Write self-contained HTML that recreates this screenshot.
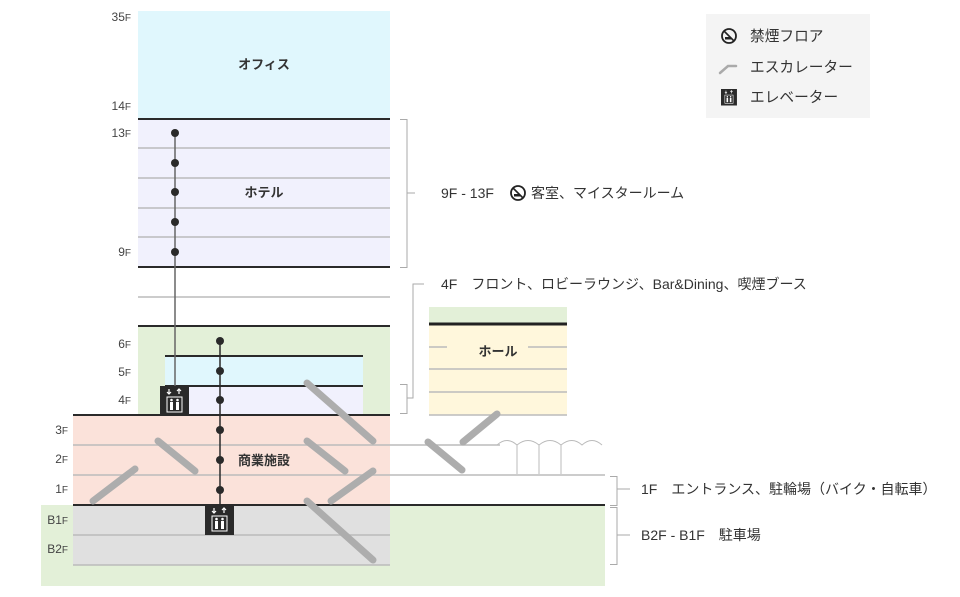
<!DOCTYPE html>
<html><head><meta charset="utf-8"><style>
html,body{margin:0;padding:0;background:#fff;}
svg{display:block;font-family:"Liberation Sans","Noto Sans CJK JP",sans-serif;}
.fl{font-size:12px;fill:#444;text-anchor:end;}
.fs{font-size:10px;}
.t{font-size:14px;fill:#333;}
.lg{font-size:14.7px;fill:#333;}
.b{font-size:13px;font-weight:bold;fill:#333;text-anchor:middle;}
.esc{stroke:#adadad;stroke-width:7;stroke-linecap:round;fill:none;}
.g{stroke:#bbb;stroke-width:1.5;}
.d{stroke:#2a2a2a;stroke-width:2;}
.br{stroke:#aaa;stroke-width:1;fill:none;}
</style></head><body>
<svg width="960" height="597" viewBox="0 0 960 597" xmlns="http://www.w3.org/2000/svg">
<defs>
<g id="elv">
<rect x="0" y="0" width="29" height="30" fill="#2a2a2a"/>
<path d="M9 3v5M7 6l2 2 2-2M19 8V3M17 5l2-2 2 2" stroke="#fff" stroke-width="1.2" fill="none"/>
<rect x="7" y="11" width="15" height="15" fill="none" stroke="#fff" stroke-width="1"/>
<circle cx="11.5" cy="14" r="1.3" fill="#fff"/><circle cx="17.5" cy="14" r="1.3" fill="#fff"/>
<rect x="10" y="16" width="3" height="8" fill="#fff"/><rect x="16" y="16" width="3" height="8" fill="#fff"/>
</g>
<g id="ns">
<circle cx="0" cy="0" r="7" fill="none" stroke="#222" stroke-width="1.8"/>
<line x1="-5" y1="-5" x2="5" y2="5" stroke="#222" stroke-width="1.6"/>
<path d="M-4 1h6v2.5h-6z" fill="#222"/>
</g>
</defs>
<rect x="138" y="11" width="252" height="108" fill="#e0f7fd"/>
<text x="264" y="69" class="b">オフィス</text>
<rect x="138" y="119" width="252" height="148" fill="#f1f1fd"/>
<line x1="138" y1="119" x2="390" y2="119" class="d" stroke-width="1.5"/>
<line x1="138" y1="148" x2="390" y2="148" class="g"/>
<line x1="138" y1="178" x2="390" y2="178" class="g"/>
<line x1="138" y1="208" x2="390" y2="208" class="g"/>
<line x1="138" y1="237" x2="390" y2="237" class="g"/>
<line x1="138" y1="267" x2="390" y2="267" class="d"/>
<text x="264" y="197" class="b">ホテル</text>
<line x1="138" y1="297" x2="390" y2="297" class="g"/>
<rect x="138" y="326" width="252" height="89" fill="#e3f0d8"/>
<line x1="138" y1="326" x2="390" y2="326" class="d"/>
<rect x="165" y="356" width="198" height="30" fill="#e0f7fd"/>
<rect x="165" y="386" width="198" height="29" fill="#f1f1fd"/>
<line x1="165" y1="356" x2="363" y2="356" class="d" stroke-width="1.5"/>
<line x1="165" y1="386" x2="363" y2="386" class="d" stroke-width="1.2"/>
<rect x="41" y="505" width="564" height="81" fill="#e3f0d8"/>
<rect x="73" y="505" width="317" height="60" fill="#e0e0e0"/>
<line x1="73" y1="535" x2="390" y2="535" class="g"/>
<line x1="73" y1="565" x2="390" y2="565" class="g"/>
<rect x="73" y="415" width="317" height="90" fill="#fbe2da"/>
<line x1="73" y1="445" x2="500" y2="445" class="g"/>
<line x1="73" y1="475" x2="605" y2="475" class="g"/>
<line x1="73" y1="415" x2="390" y2="415" class="d"/>
<line x1="73" y1="505" x2="605" y2="505" class="d"/>
<text x="264" y="465" class="b">商業施設</text>
<rect x="429" y="307" width="138" height="17" fill="#e3f0d8"/>
<rect x="429" y="324" width="138" height="91" fill="#fff7dc"/>
<line x1="429" y1="324" x2="567" y2="324" stroke="#222" stroke-width="3"/>
<line x1="429" y1="347" x2="447" y2="347" class="g"/>
<line x1="528" y1="347" x2="567" y2="347" class="g"/>
<line x1="429" y1="369" x2="567" y2="369" class="g"/>
<line x1="429" y1="392" x2="567" y2="392" class="g"/>
<line x1="429" y1="415" x2="567" y2="415" class="g" stroke-width="1"/>
<text x="498" y="356" class="b">ホール</text>
<path d="M497 445Q507 436 517 445Q528 436 539 445Q550 436 561 445Q572 436 582 445Q592 436 602 445M517 445V474M539 445V474M561 445V474" stroke="#bbb" stroke-width="1" fill="none"/>
<line x1="93" y1="501" x2="135" y2="469" class="esc"/>
<line x1="158" y1="441" x2="195" y2="471" class="esc"/>
<line x1="307" y1="383" x2="373" y2="441" class="esc"/>
<line x1="307" y1="441" x2="345" y2="471" class="esc"/>
<line x1="331" y1="501" x2="373" y2="471" class="esc"/>
<line x1="307" y1="501" x2="373" y2="560" class="esc"/>
<line x1="428" y1="442" x2="462" y2="470" class="esc"/>
<line x1="463" y1="442" x2="497" y2="414" class="esc"/>
<line x1="175" y1="133" x2="175" y2="386" stroke="#666" stroke-width="1.5"/>
<g fill="#2a2a2a"><circle cx="175" cy="133" r="4"/><circle cx="175" cy="163" r="4"/><circle cx="175" cy="192" r="4"/><circle cx="175" cy="222" r="4"/><circle cx="175" cy="252" r="4"/></g>
<use href="#elv" x="160" y="386"/>
<line x1="220" y1="341" x2="220" y2="505" stroke="#2a2a2a" stroke-width="1.5"/>
<g fill="#2a2a2a"><circle cx="220" cy="341" r="4"/><circle cx="220" cy="371" r="4"/><circle cx="220" cy="400" r="4"/><circle cx="220" cy="430" r="4"/><circle cx="220" cy="460" r="4"/><circle cx="220" cy="490" r="4"/></g>
<use href="#elv" x="205" y="505"/>
<text x="131" y="21" class="fl">35<tspan class="fs">F</tspan></text>
<text x="131" y="110" class="fl">14<tspan class="fs">F</tspan></text>
<text x="131" y="137" class="fl">13<tspan class="fs">F</tspan></text>
<text x="131" y="256" class="fl">9<tspan class="fs">F</tspan></text>
<text x="131" y="348" class="fl">6<tspan class="fs">F</tspan></text>
<text x="131" y="376" class="fl">5<tspan class="fs">F</tspan></text>
<text x="131" y="404" class="fl">4<tspan class="fs">F</tspan></text>
<text x="68" y="434" class="fl">3<tspan class="fs">F</tspan></text>
<text x="68" y="463" class="fl">2<tspan class="fs">F</tspan></text>
<text x="68" y="493" class="fl">1<tspan class="fs">F</tspan></text>
<text x="68" y="524" class="fl">B1<tspan class="fs">F</tspan></text>
<text x="68" y="553" class="fl">B2<tspan class="fs">F</tspan></text>
<path d="M400 119.5H407V267.5H400M407 193H415" class="br"/>
<text x="441" y="198" class="t">9F - 13F</text>
<use href="#ns" x="518" y="193"/>
<text x="531" y="198" class="t">客室、マイスタールーム</text>
<path d="M400 384.5H407V413.5H400M407 398H413V284H424" class="br"/>
<text x="441" y="289" class="t">4F　フロント、ロビーラウンジ、Bar&amp;Dining、喫煙ブース</text>
<path d="M610 476.5H617V505.5H610M617 489H630" class="br"/>
<text x="641" y="494" class="t">1F　エントランス、駐輪場（バイク・自転車）</text>
<path d="M610 507.5H617V564.5H610M617 535H630" class="br"/>
<text x="641" y="540" class="t">B2F - B1F　駐車場</text>
<rect x="706" y="14" width="164" height="104" fill="#f4f4f4"/>
<use href="#ns" x="729" y="36"/>
<text x="750" y="41" class="lg">禁煙フロア</text>
<path d="M720 73L728 66H736" stroke="#aaa" stroke-width="2.5" stroke-linecap="round" fill="none"/>
<text x="750" y="72" class="lg">エスカレーター</text>
<g transform="translate(721,89) scale(0.55)"><use href="#elv"/></g>
<text x="750" y="102" class="lg">エレベーター</text>
</svg>
</body></html>
